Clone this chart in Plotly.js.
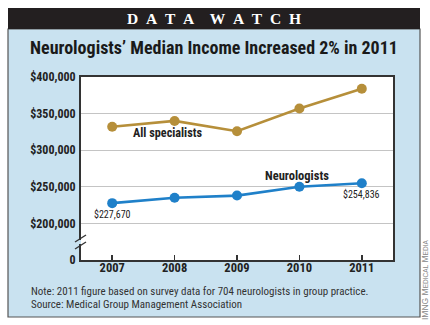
<!DOCTYPE html>
<html><head><meta charset="utf-8">
<script src="https://cdn.plot.ly/plotly-3.0.1.min.js"></script>
<style>html,body{margin:0;padding:0;background:#fff;}</style>
</head><body><div id="chart" style="width:430px;height:325px;"></div>
<script>
const years = [2007, 2008, 2009, 2010, 2011];
const specialists = [332000, 340000, 326000, 357000, 384000];
const neurologists = [227670, 235000, 238000, 250000, 254836];
const yTickVals = [150000, 200000, 250000, 300000, 350000, 400000];
const yTickText = ['0', '$200,000', '$250,000', '$300,000', '$350,000', '$400,000'];
const xTickText = ['2007', '2008', '2009', '2010', '2011'];
const firstLabel = '$227,670';
const lastLabel = '$254,836';

const W = 430, H = 325, L = 81, R = 393, T = 77, B = 260;
const px = x => (x - L) / (R - L);
const py = y => (B - y) / (B - T);
const COND = '"Roboto Condensed", "DejaVu Sans Condensed", sans-serif';
const BLUEBG = '#C9E2F0';
const GOLD = '#B68F3A';
const BLUE = '#1F80C9';

const traces = [
  {x: years, y: specialists, type: 'scatter', mode: 'lines+markers',
   line: {color: GOLD, width: 2.6}, marker: {color: GOLD, size: 10}, cliponaxis: false},
  {x: years, y: neurologists, type: 'scatter', mode: 'lines+markers',
   line: {color: BLUE, width: 2.6}, marker: {color: BLUE, size: 10}, cliponaxis: false}
];

const sp = '\u2002';
const header = 'DATA WATCH'.split(' ').map(w => w.split('').join(sp)).join('\u2002\u00a0\u00a0');

function ann(text, x, y, font, extra) {
  return Object.assign({text: text, xref: 'paper', yref: 'paper', x: px(x), y: py(y),
    xanchor: 'center', yanchor: 'middle', showarrow: false, font: font}, extra || {});
}

const layout = {
  width: W, height: H,
  margin: {l: L, r: W - R, t: T, b: H - B, pad: 0},
  paper_bgcolor: '#ffffff', plot_bgcolor: 'rgba(0,0,0,0)',
  showlegend: false,
  xaxis: {range: [2006.5, 2011.5], tickvals: years, ticktext: xTickText,
    ticks: 'inside', ticklen: 5, tickwidth: 1.5, tickcolor: '#333', ticklabelstandoff: -5,
    showgrid: false, zeroline: false, showline: true, linecolor: '#333', linewidth: 2, mirror: true,
    tickfont: {family: COND, size: 12.5, color: '#222', weight: 'bold'}, fixedrange: true},
  yaxis: {range: [150000, 400000], tickvals: yTickVals, ticktext: yTickText,
    ticks: '', showgrid: true, gridcolor: '#C4C4C4', gridwidth: 1.3, zeroline: false,
    showline: true, linecolor: '#333', linewidth: 2, mirror: true, ticklabelstandoff: 1,
    tickfont: {family: COND, size: 12, color: '#222', weight: 'bold'}, fixedrange: true},
  shapes: [
    {type: 'rect', xref: 'paper', yref: 'paper', x0: px(8), x1: px(420), y0: py(317), y1: py(29),
     fillcolor: BLUEBG, line: {color: '#555', width: 1.2}, layer: 'below'},
    {type: 'rect', xref: 'paper', yref: 'paper', x0: px(8), x1: px(420), y0: py(29), y1: py(8),
     fillcolor: '#231F20', line: {width: 0}, layer: 'below'},
    {type: 'rect', xref: 'paper', yref: 'paper', x0: 0, x1: 1, y0: 0, y1: 1,
     fillcolor: '#ffffff', line: {width: 0}, layer: 'below'},
    {type: 'rect', xref: 'paper', yref: 'paper', x0: px(78), x1: px(81), y0: py(244), y1: py(240),
     fillcolor: BLUEBG, line: {width: 0}, layer: 'above'},
    {type: 'rect', xref: 'paper', yref: 'paper', x0: px(81), x1: px(84), y0: py(244), y1: py(240),
     fillcolor: '#ffffff', line: {width: 0}, layer: 'above'},
    {type: 'line', xref: 'paper', yref: 'paper', x0: px(75), x1: px(86), y0: py(242), y1: py(235),
     line: {color: '#333', width: 1.4}, layer: 'above'},
    {type: 'line', xref: 'paper', yref: 'paper', x0: px(75), x1: px(86), y0: py(249), y1: py(242),
     line: {color: '#333', width: 1.4}, layer: 'above'}
  ],
  annotations: [
    ann('<b>' + header + '</b>', 214, 18.5,
        {family: '"Liberation Serif", "DejaVu Serif", serif', size: 15.5, color: '#fff'}),
    ann('Neurologists\u2019 Median Income Increased 2% in 2011', 214, 47,
        {family: COND, size: 18, color: '#1a1a1a', weight: 'bold'}),
    ann('All specialists', 167, 133, {family: COND, size: 12.2, color: '#222', weight: 'bold'}),
    ann('Neurologists', 297, 175, {family: COND, size: 12.5, color: '#222', weight: 'bold'}),
    {text: firstLabel, x: years[0], y: neurologists[0], xref: 'x', yref: 'y', yshift: -11,
     xanchor: 'center', yanchor: 'middle',
     showarrow: false, font: {family: COND, size: 10, color: '#222'}},
    {text: lastLabel, x: years[4], y: neurologists[4], xref: 'x', yref: 'y', yshift: -11,
     xanchor: 'center', yanchor: 'middle',
     showarrow: false, font: {family: COND, size: 10, color: '#222'}},
    ann('Note: 2011 figure based on survey data for 704 neurologists in group practice.', 29, 291,
        {family: COND, size: 11, color: '#333'}, {xanchor: 'left'}),
    ann('Source: Medical Group Management Association', 29, 304,
        {family: COND, size: 11, color: '#333'}, {xanchor: 'left'}),
    ann('IMNG M<span style="font-size:6.5px">EDICAL</span> M<span style="font-size:6.5px">EDIA</span>',
        425, 280, {family: 'Arial, sans-serif', size: 8.5, color: '#888'}, {textangle: -90})
  ]
};

Plotly.newPlot('chart', traces, layout, {displayModeBar: false, staticPlot: true});
</script></body></html>
